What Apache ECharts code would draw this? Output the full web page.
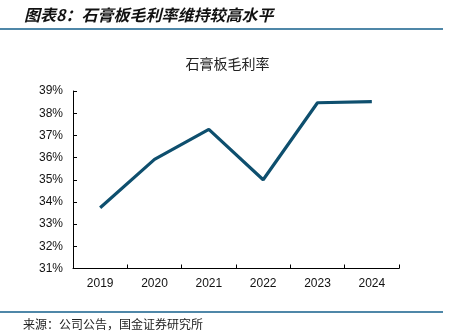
<!DOCTYPE html>
<html>
<head>
<meta charset="utf-8">
<script src="https://cdn.jsdelivr.net/npm/echarts@6/dist/echarts.min.js"></script>
<style>
  html, body { margin: 0; padding: 0; background: #fff; }
  #chart { width: 455px; height: 333px; }
</style>
</head>
<body>
<div id="chart"></div>
<script>
// Gypsum board gross margin by year (%)
const years = ['2019', '2020', '2021', '2022', '2023', '2024'];
const grossMargin = [33.74, 35.92, 37.27, 35.0, 38.47, 38.52];
const yMin = 31;
const yMax = 39;
const yStep = 1;

const cjk = '"Noto Sans CJK SC", sans-serif';
const latin = '"Liberation Sans", Arial, sans-serif';

const chart = echarts.init(document.getElementById('chart'), null, { renderer: 'canvas' });
chart.setOption({
  animation: false,
  backgroundColor: '#fff',
  title: {
    text: '石膏板毛利率',
    left: 'center',
    top: 52,
    textStyle: { fontFamily: cjk, fontSize: 14, fontWeight: 'normal', color: '#222' }
  },
  grid: { left: 73, right: 56, top: 91, bottom: 64.5 },
  xAxis: {
    type: 'category',
    data: years,
    boundaryGap: true,
    axisLine: { lineStyle: { color: '#000', width: 1 } },
    axisTick: { show: true, inside: true, length: 4, lineStyle: { color: '#000' } },
    axisLabel: { color: '#111', fontFamily: latin, fontSize: 12, margin: 9 }
  },
  yAxis: {
    type: 'value',
    min: yMin,
    max: yMax,
    interval: yStep,
    axisLine: { show: true, lineStyle: { color: '#000', width: 1 } },
    axisTick: { show: true, inside: true, length: 4, lineStyle: { color: '#000' } },
    splitLine: { show: false },
    axisLabel: { color: '#111', fontFamily: latin, fontSize: 12, margin: 10, formatter: '{value}%' }
  },
  series: [{
    type: 'line',
    data: grossMargin,
    symbol: 'none',
    lineStyle: { color: '#0e4f6e', width: 3.2 },
    itemStyle: { color: '#0e4f6e' }
  }],
  graphic: [
    {
      type: 'text', left: 24, top: 7,
      style: {
        text: '图表8：石膏板毛利率维持较高水平',
        fontFamily: cjk, fontSize: 16, fontWeight: 'bold', fontStyle: 'italic', fill: '#111'
      }
    },
    { type: 'rect', shape: { x: 0, y: 28, width: 443, height: 2 }, style: { fill: '#4f87a8' } },
    { type: 'rect', shape: { x: 0, y: 311, width: 443, height: 2 }, style: { fill: '#4f87a8' } },
    {
      type: 'text', left: 23, top: 318,
      style: { text: '来源：公司公告，国金证券研究所', fontFamily: cjk, fontSize: 12, fill: '#222' }
    }
  ]
});
</script>
</body>
</html>
